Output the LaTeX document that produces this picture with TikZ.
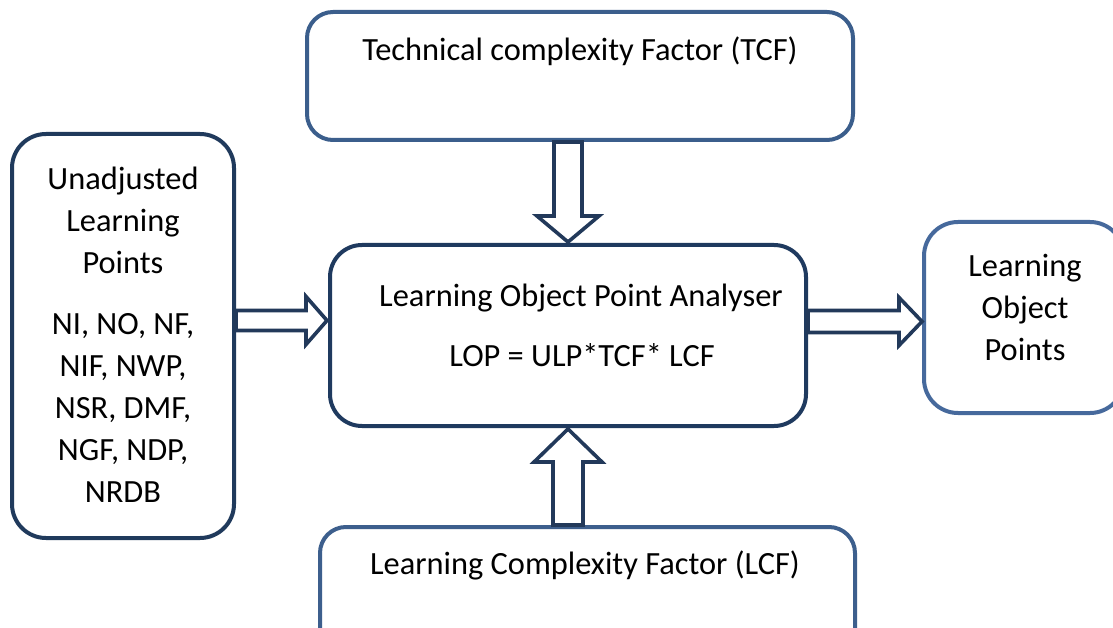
\documentclass[tikz,border=0pt]{standalone}
\usepackage{fontspec}
\setmainfont{Carlito}
\usetikzlibrary{calc}
\definecolor{topc}{HTML}{3B5E8C}
\definecolor{leftc}{HTML}{203A5C}
\definecolor{midc}{HTML}{1F3A5F}
\definecolor{rightc}{HTML}{46699C}
\definecolor{botc}{HTML}{3D5F8D}
\definecolor{arrc}{HTML}{22395A}
\tikzset{
  box/.style={draw, line width=4pt, rounded corners=#1, fill=white, inner sep=0pt},
  lbl/.style={font=\fontsize{32.4}{42}\selectfont, inner sep=0pt, anchor=base, align=center},
  blockarrow/.style={draw=arrc, line width=3.6pt, fill=white, line join=miter},
}
\newcommand\blockarr[5]{%
  \draw[blockarrow]
    ($(#1)!#3!90:(#2)$) --
    ($($(#2)!#5!(#1)$)!#3!90:(#2)$) --
    ($($(#2)!#5!(#1)$)!#4!90:(#2)$) --
    (#2) --
    ($($(#2)!#5!(#1)$)!#4!-90:(#2)$) --
    ($($(#2)!#5!(#1)$)!#3!-90:(#2)$) --
    ($(#1)!#3!-90:(#2)$) -- cycle;}
\begin{document}
\begin{tikzpicture}[x=1pt,y=-1pt]
\path[use as bounding box, clip] (0,0) rectangle (1113,628);
\fill[white] (0,0) rectangle (1113,628);
% boxes
\node[box=26pt, draw=topc, minimum width=546pt, minimum height=128pt] (tcf) at (580,76) {};
\node[box=34pt, draw=leftc, minimum width=222pt, minimum height=404pt] (ulp) at (123,336) {};
\node[box=32pt, draw=midc, minimum width=476pt, minimum height=181pt] (lop) at (568,335.5) {};
\node[box=34pt, draw=rightc, minimum width=200pt, minimum height=191pt] (lopts) at (1024,317.5) {};
\node[box=26pt, draw=botc, minimum width=535pt, minimum height=130pt] (lcf) at (587.5,592) {};
% texts (anchor base = baseline of the last line)
\node[lbl] (ttcf) at (580,61) {Technical complexity Factor (TCF)};
\node[lbl] (tulp1) at (123,273) {Unadjusted\\Learning\\Points};
\node[lbl] (tulp2) at (123,502) {NI, NO, NF,\\NIF, NWP,\\NSR, DMF,\\NGF, NDP,\\NRDB};
\node[lbl] (tlop1) at (581,306) {Learning Object Point Analyser};
\node[lbl] (tlop2) at (582,366) {LOP = ULP*TCF* LCF};
\node[lbl] (tlopts) at (1025,360) {Learning\\Object\\Points};
\node[lbl] (tlcf) at (585,574) {Learning Complexity Factor (LCF)};
% arrow end points
\coordinate (d1) at (lop.north |- tcf.south);
\coordinate (d2) at ($(lop.north)+(0,-1)$);
\coordinate (u1) at (lop.south |- lcf.north);
\coordinate (u2) at ($(lop.south)+(0,1)$);
\coordinate (l2) at ($(lop.west)+(-1,-15)$);
\coordinate (l1) at (ulp.east |- l2);
\coordinate (r1) at ($(lop.east)+(0,-14)$);
\coordinate (r2) at (lopts.west |- r1);
\blockarr{d1}{d2}{14pt}{31pt}{26pt}
\blockarr{u1}{u2}{15pt}{34pt}{33pt}
\blockarr{l1}{l2}{10pt}{24pt}{21pt}
\blockarr{r1}{r2}{11pt}{24pt}{23pt}
\end{tikzpicture}
\end{document}
